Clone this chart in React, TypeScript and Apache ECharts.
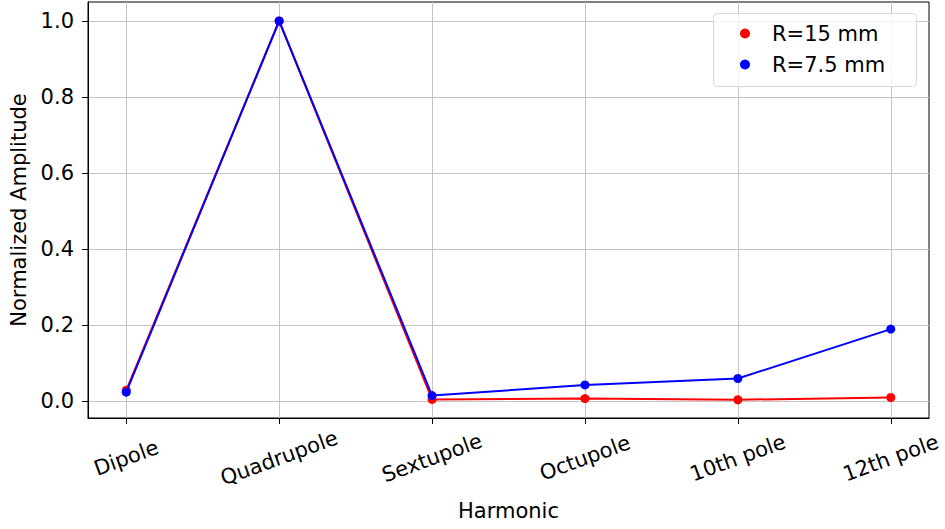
import React, { useEffect, useRef } from "react";
import * as echarts from "echarts";

const categories = ["Dipole", "Quadrupole", "Sextupole", "Octupole", "10th pole", "12th pole"];
const r15 = [0.028, 1.0, 0.004, 0.006, 0.003, 0.009];
const r75 = [0.023, 1.0, 0.014, 0.042, 0.059, 0.189];
const yTicks = [0, 0.2, 0.4, 0.6, 0.8, 1.0];
const xTicks = [0, 1, 2, 3, 4, 5];

const FONT = "DejaVu Sans";
const FS = 21;

export default function App() {
  const ref = useRef<HTMLDivElement>(null);
  useEffect(() => {
    if (!ref.current) return;
    const chart = echarts.init(ref.current, null, { renderer: "svg" });
    const gridLine = { show: true, lineStyle: { color: "#c4c4c4", width: 1 } };
    chart.setOption({
      animation: false,
      backgroundColor: "#ffffff",
      grid: {
        left: 88,
        right: 16,
        top: 2,
        bottom: 111,
        show: true,
        borderColor: "#000",
        borderWidth: 1,
        backgroundColor: "transparent",
      },
      graphic: [
        {
          type: "rect",
          left: 713,
          top: 13,
          shape: { width: 203, height: 73, r: 4 },
          style: { fill: "rgba(255,255,255,0.8)", stroke: "#d8d8d8", lineWidth: 1 },
          z: 10,
        },
      ],
      legend: {
        orient: "vertical",
        left: 740,
        top: 23,
        padding: 0,
        itemGap: 10,
        icon: "circle",
        itemWidth: 44,
        itemHeight: 10,
        z: 20,
        textStyle: { fontFamily: FONT, fontSize: FS, color: "#000" },
        data: ["R=15 mm", "R=7.5 mm"],
      },
      xAxis: {
        type: "value",
        min: -0.25,
        max: 5.25,
        name: "Harmonic",
        nameLocation: "middle",
        nameGap: 82,
        nameTextStyle: { fontFamily: FONT, fontSize: FS, color: "#000" },
        axisLine: { show: true, onZero: false, lineStyle: { color: "#000", width: 1 } },
        axisTick: { show: true, length: 6, lineStyle: { color: "#000" }, customValues: xTicks },
        axisLabel: {
          customValues: xTicks,
          formatter: (v: number) => categories[Math.round(v)] ?? "",
          rotate: 20,
          align: "center",
          verticalAlign: "middle",
          margin: 40,
          fontFamily: FONT,
          fontSize: FS,
          color: "#000",
        },
        splitLine: gridLine,
      },
      yAxis: {
        type: "value",
        min: -0.045,
        max: 1.05,
        name: "Normalized Amplitude",
        nameLocation: "middle",
        nameGap: 54,
        nameTextStyle: { fontFamily: FONT, fontSize: FS, color: "#000" },
        axisLine: { show: true, onZero: false, lineStyle: { color: "#000", width: 1 } },
        axisTick: { show: true, length: 6, lineStyle: { color: "#000" }, customValues: yTicks },
        axisLabel: {
          customValues: yTicks,
          formatter: (v: number) => v.toFixed(1),
          margin: 14,
          fontFamily: FONT,
          fontSize: FS,
          color: "#000",
        },
        splitLine: gridLine,
      },
      series: [
        {
          name: "R=15 mm",
          type: "line",
          data: r15.map((v, i) => [i, v]),
          color: "#ff0000",
          symbol: "circle",
          symbolSize: 9,
          lineStyle: { width: 2, color: "#ff0000" },
          itemStyle: { color: "#ff0000" },
          z: 2,
        },
        {
          name: "R=7.5 mm",
          type: "line",
          data: r75.map((v, i) => [i, v]),
          color: "#0000ff",
          symbol: "circle",
          symbolSize: 9,
          lineStyle: { width: 2, color: "#0000ff" },
          itemStyle: { color: "#0000ff" },
          z: 3,
        },
      ],
    });
    return () => chart.dispose();
  }, []);
  return <div ref={ref} style={{ width: 945, height: 529, position: "absolute", left: 0, top: 0 }} />;
}
